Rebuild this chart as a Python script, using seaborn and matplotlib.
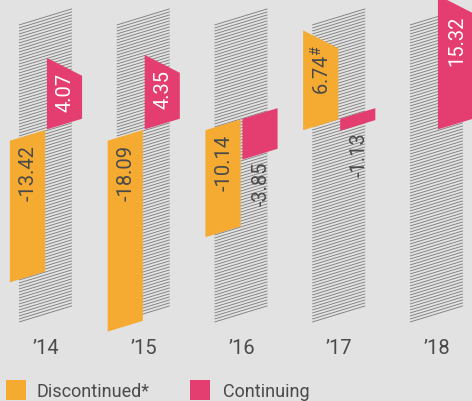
import numpy as np
import pandas as pd
import matplotlib
matplotlib.use("Agg")
import matplotlib.pyplot as plt
import seaborn as sns
from matplotlib import font_manager
from matplotlib.patches import Polygon, Rectangle
from matplotlib.collections import LineCollection

# data
years = ["\u201914", "\u201915", "\u201916", "\u201917", "\u201918"]
discontinued = [-13.42, -18.09, -10.14, 6.74, np.nan]
continuing = [4.07, 4.35, -3.85, -1.13, 15.32]
disc_notes = ["", "", "", "$^{\\#}$", ""]
series = ["Discontinued*", "Continuing"]
colors = {"Discontinued*": "#f5aa32", "Continuing": "#e43e70"}

# layout, in pixels of the 472x402 picture
W, H = 472, 402
PX_UNIT = 10.55      # px per value unit
PX_STEP = 97.75      # px between year groups
FIRST_PX = 46        # centre of first group
ZERO_PX = 142        # zero line at left of first bar
AX_BOTTOM_PX = 336
SLOPE = 0.305        # zero line rise, px per px
TOP_TILT = 0.51      # top of positive bars falls, px per px
CAP = 10.0           # taller bars are cut off
zero_lift = [0, 0, 1, 1, 0]
GROUP_W = 0.757

BG = "#e2e2e2"
TXT = "#4a4a4a"

names = {f.name for f in font_manager.fontManager.ttflist}
FONT = "Liberation Sans Narrow" if "Liberation Sans Narrow" in names else "Roboto"
narrow = FONT == "Liberation Sans Narrow"
LBL_SIZE = 17 if narrow else 14.5
YEAR_SIZE = 16 if narrow else 14.5
LEG_SIZE = 15 if narrow else 13

sns.set_theme(style="white")
plt.rcParams["font.family"] = [FONT, "DejaVu Sans"]
plt.rcParams["mathtext.default"] = "regular"

k = SLOPE * PX_STEP / PX_UNIT
t = TOP_TILT * PX_STEP / PX_UNIT

df = pd.DataFrame({
    "year": years * 2,
    "series": [series[0]] * len(years) + [series[1]] * len(years),
    "value": discontinued + continuing,
})

fig = plt.figure(figsize=(W / 100, H / 100), dpi=100, facecolor=BG)
ax = fig.add_axes([0, (H - AX_BOTTOM_PX) / H, 1, AX_BOTTOM_PX / H])
ax.set_facecolor(BG)

sns.barplot(data=df, x="year", y="value", hue="series", hue_order=series,
            palette=colors, width=GROUP_W, gap=0.05, errorbar=None,
            legend=False, ax=ax)

ax.set_xlim(-FIRST_PX / PX_STEP, (W - FIRST_PX) / PX_STEP)
ax.set_ylim(-(AX_BOTTOM_PX - ZERO_PX) / PX_UNIT, ZERO_PX / PX_UNIT)

# hatched columns behind each year
yt = (ZERO_PX - 25) / PX_UNIT
yb = -(323 - ZERO_PX) / PX_UNIT
segs = []
for i in range(len(years)):
    xs0, xs1 = i - 27 / PX_STEP, i + 26 / PX_STEP
    for yy in np.arange(yb, yt + 1e-9, 3 / PX_UNIT):
        segs.append([(xs0, yy), (xs1, yy + k * (xs1 - xs0))])
ax.add_collection(LineCollection(segs, colors="#808080", linewidths=0.65, zorder=1))

# turn the bars into slanted shapes
ytop = ax.get_ylim()[1]
for container, name in zip(ax.containers, series):
    for bar in list(container):
        v = bar.get_height()
        x0, w = bar.get_x(), bar.get_width()
        bar.set_visible(False)
        if np.isnan(v) or v == 0:
            continue
        i = int(round(x0 + w / 2))
        xl = i - GROUP_W / 2
        zero = lambda x: zero_lift[i] + k * (x - xl)
        zl, zr = zero(x0), zero(x0 + w)
        if v < 0:
            pts = [(x0, zl), (x0 + w, zr), (x0 + w, zr + v), (x0, zl + v)]
        else:
            tr = zr + min(v, CAP)
            pts = [(x0, zl), (x0 + w, zr), (x0 + w, tr), (x0, tr + t * w)]
        ax.add_patch(Polygon(pts, closed=True, fc=colors[name], ec="none",
                             zorder=3, clip_on=False))

        xc = x0 + w / 2
        zc = zero(xc)
        note = disc_notes[i] if name == series[0] else ""
        label = f"{v:.2f}" + note
        inside_col = TXT if name == series[0] else "white"
        if v < 0 and abs(v) >= 5:
            y, col = zc - 9 / PX_UNIT, inside_col
        elif v < 0:
            y, col = zc + v - 6 / PX_UNIT, TXT
        else:
            y = min(zr + min(v, CAP) + t * w / 2 - 5 / PX_UNIT, ytop - 1.5)
            col = inside_col
        ax.text(xc + 1 / PX_STEP, y, label, rotation=90, ha="center", va="top",
                fontsize=LBL_SIZE, color=col, zorder=4)

ax.set_xlabel("")
ax.set_ylabel("")
ax.set_yticks([])
ax.tick_params(axis="x", length=0, pad=2, labelsize=YEAR_SIZE, labelcolor=TXT)
sns.despine(ax=ax, left=True, bottom=True)

# legend
for name, x_sq, x_txt in [(series[0], 6, 37), (series[1], 190, 223)]:
    fig.add_artist(Rectangle((x_sq / W, (H - 401) / H), 20 / W, 20 / H,
                             transform=fig.transFigure, fc=colors[name], ec="none"))
    fig.text(x_txt / W, (H - 397) / H, name, fontsize=LEG_SIZE, color=TXT,
             va="baseline", ha="left")

fig.savefig("out.png", dpi=100, facecolor=BG)
